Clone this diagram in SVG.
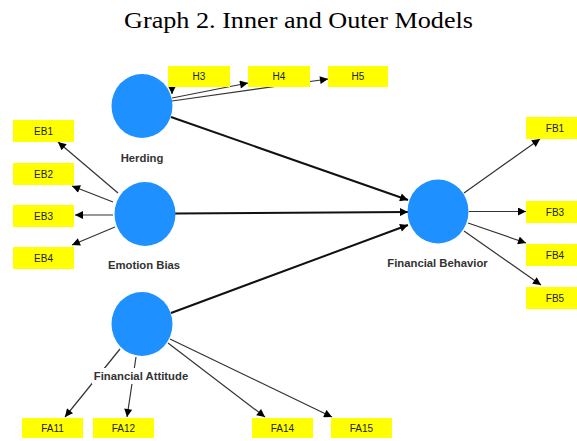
<svg xmlns="http://www.w3.org/2000/svg" width="577" height="441" viewBox="0 0 577 441">
<style>
.bg{fill:#ffffff}
.lv{fill:#1E90FF}
.ind{fill:#FFFF00}
.it{font-family:"Liberation Sans",Arial,sans-serif;font-size:10px;fill:#222;text-anchor:middle}
.lb{font-family:"Liberation Sans",Arial,sans-serif;font-size:11.3px;font-weight:bold;fill:#333;text-anchor:middle}
.title{font-family:"Liberation Serif","Times New Roman",serif;font-size:23px;fill:#000}
.inner{stroke:#111;stroke-width:2;fill:none;marker-end:url(#arr)}
.outer{stroke:#333;stroke-width:1.2;fill:none;marker-end:url(#arr)}
</style>
<defs>
<marker id="arr" viewBox="0 0 10 10" refX="10" refY="5" markerWidth="9" markerHeight="8" markerUnits="userSpaceOnUse" orient="auto">
<path d="M0,0 L10,5 L0,10 z" fill="#000"/>
</marker>
</defs>
<rect class="bg" x="0" y="0" width="577" height="441"/>
<text class="title" x="124" y="28" textLength="349" lengthAdjust="spacingAndGlyphs">Graph 2. Inner and Outer Models</text>

<g id="connectors">
<path class="inner" d="M171,117 L408,200"/>
<path class="inner" d="M175,213.5 L408,212"/>
<path class="inner" d="M171,313 L408,225"/>
<path class="outer" d="M172,86 L172,94"/>
<path class="outer" d="M172,98 L248,83"/>
<path class="outer" d="M172,101 L328,79"/>
<path class="outer" d="M118,193 L58,142"/>
<path class="outer" d="M113,202 L72,186"/>
<path class="outer" d="M113,215 L75,215"/>
<path class="outer" d="M115,227 L72,245"/>
<path class="outer" d="M464,193 L540,139"/>
<path class="outer" d="M469,211.5 L526,211.5"/>
<path class="outer" d="M468,223 L526,243"/>
<path class="outer" d="M464,231 L541,285"/>
<path class="outer" d="M120,349 L65,417"/>
<path class="outer" d="M136,357 L127,417"/>
<path class="outer" d="M168,343 L265,417"/>
<path class="outer" d="M170,339 L332,417"/>
</g>

<g id="herding">
<ellipse class="lv" cx="142" cy="106" rx="30.5" ry="32"/>
<text class="lb" x="142" y="162">Herding</text>
</g>
<g id="emotion-bias">
<ellipse class="lv" cx="145" cy="214" rx="30.5" ry="32"/>
<text class="lb" x="144" y="269">Emotion Bias</text>
</g>
<g id="financial-behavior">
<ellipse class="lv" cx="438" cy="211.5" rx="30.5" ry="32"/>
<text class="lb" x="437.5" y="267">Financial Behavior</text>
</g>
<g id="financial-attitude">
<ellipse class="lv" cx="142" cy="324" rx="30.5" ry="32"/>
<rect class="bg" x="92" y="368" width="98" height="16"/>
<text class="lb" x="141" y="380">Financial Attitude</text>
</g>

<g id="H3"><rect class="ind" x="168" y="66" width="62" height="21"/><text class="it" x="199" y="80">H3</text></g>
<g id="H4"><rect class="ind" x="248" y="66" width="62" height="21"/><text class="it" x="279" y="80">H4</text></g>
<g id="H5"><rect class="ind" x="328" y="66" width="60" height="21"/><text class="it" x="358" y="80">H5</text></g>

<g id="EB1"><rect class="ind" x="13" y="120" width="61" height="22"/><text class="it" x="43.5" y="134.5">EB1</text></g>
<g id="EB2"><rect class="ind" x="13" y="163" width="61" height="22"/><text class="it" x="43.5" y="177.5">EB2</text></g>
<g id="EB3"><rect class="ind" x="13" y="205" width="61" height="22"/><text class="it" x="43.5" y="219.5">EB3</text></g>
<g id="EB4"><rect class="ind" x="13" y="247" width="61" height="22"/><text class="it" x="43.5" y="261.5">EB4</text></g>

<g id="FB1"><rect class="ind" x="526" y="117" width="58" height="22"/><text class="it" x="555" y="131.5">FB1</text></g>
<g id="FB3"><rect class="ind" x="526" y="201" width="58" height="22"/><text class="it" x="555" y="215.5">FB3</text></g>
<g id="FB4"><rect class="ind" x="526" y="244" width="58" height="22"/><text class="it" x="555" y="258.5">FB4</text></g>
<g id="FB5"><rect class="ind" x="526" y="287" width="58" height="22"/><text class="it" x="555" y="301.5">FB5</text></g>

<g id="FA11"><rect class="ind" x="22" y="418" width="61" height="20"/><text class="it" x="52.5" y="431.5">FA11</text></g>
<g id="FA12"><rect class="ind" x="93" y="418" width="61" height="20"/><text class="it" x="123.5" y="431.5">FA12</text></g>
<g id="FA14"><rect class="ind" x="252" y="418" width="61" height="20"/><text class="it" x="282.5" y="431.5">FA14</text></g>
<g id="FA15"><rect class="ind" x="331" y="418" width="61" height="20"/><text class="it" x="361.5" y="431.5">FA15</text></g>
</svg>
